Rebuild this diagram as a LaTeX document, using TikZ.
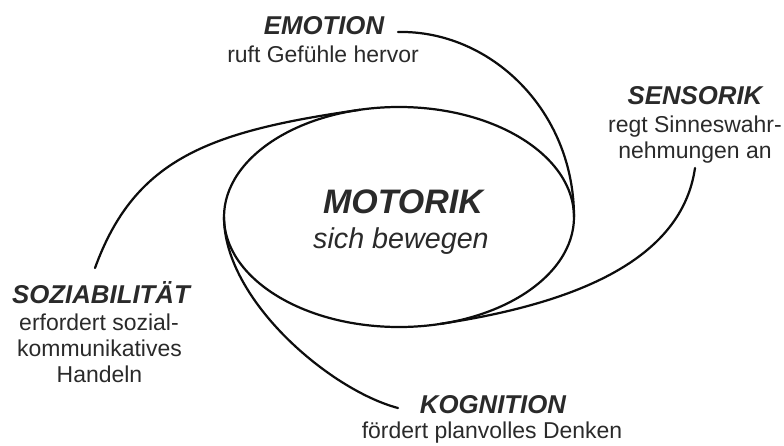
\documentclass[tikz,border=0pt]{standalone}
\usepackage{fontspec}
\setmainfont{Liberation Sans}
\usetikzlibrary{shapes.geometric}
\definecolor{txt}{HTML}{2A2A2A}
\tikzset{
  x=0.03cm, y=-0.03cm,
  head/.style={font=\fontsize{22}{26}\selectfont\bfseries\itshape, text=txt, inner sep=0pt, anchor=base},
  body/.style={font=\fontsize{19.6}{25}\selectfont, text=txt, inner sep=0pt, anchor=base},
  curve/.style={line width=1.9pt, line cap=round, draw=black!95},
}
\begin{document}
\begin{tikzpicture}
\useasboundingbox (0,0) rectangle (784,445);
% central ellipse
\node[draw, curve, ellipse, minimum width=10.5cm, minimum height=6.6cm, inner sep=0pt, outer sep=0pt] (mot) at (399,217) {};
\node[font=\fontsize{29}{34}\selectfont\bfseries\itshape, text=txt, inner sep=0pt, anchor=base] (motT) at (403,213) {MOTORIK};
\node[font=\fontsize{24.5}{29}\selectfont\itshape, text=txt, inner sep=0pt, anchor=base] (motB) at (401,248) {sich bewegen};
% labels
\node[head] (emoT) at (324,34) {EMOTION};
\node[body] (emoB) at (323,62) {ruft Gefühle hervor};
\node[head] (senT) at (695,104) {SENSORIK};
\node[body] (senB1) at (695,132) {regt Sinneswahr-};
\node[body] (senB2) at (695,158) {nehmungen an};
\node[head] (sozT) at (101,303) {SOZIABILITÄT};
\node[body] (sozB1) at (99,330) {erfordert sozial-};
\node[body] (sozB2) at (99.5,356) {kommunikatives};
\node[body] (sozB3) at (99.5,382) {Handeln};
\node[head] (kogT) at (493,413) {KOGNITION};
\node[body] (kogB) at (492,438) {fördert planvolles Denken};
% connector start points
\coordinate (e0) at (398,32);
\coordinate (s0) at (695,168);
\coordinate (z0) at (95,268);
\coordinate (k0) at (398,408);
% connectors
\draw[curve] (e0) .. controls +(92,-2) and +(0,-107) .. (mot.east);
\draw[curve] (s0) .. controls +(-13,90) and +(140,-21) .. (mot.-69);
\draw[curve] (z0) .. controls +(40,-110) and +(-150,21.5) .. (mot.110);
\draw[curve] (k0) .. controls +(-68,-18) and +(0,83) .. (mot.west);
\end{tikzpicture}
\end{document}
